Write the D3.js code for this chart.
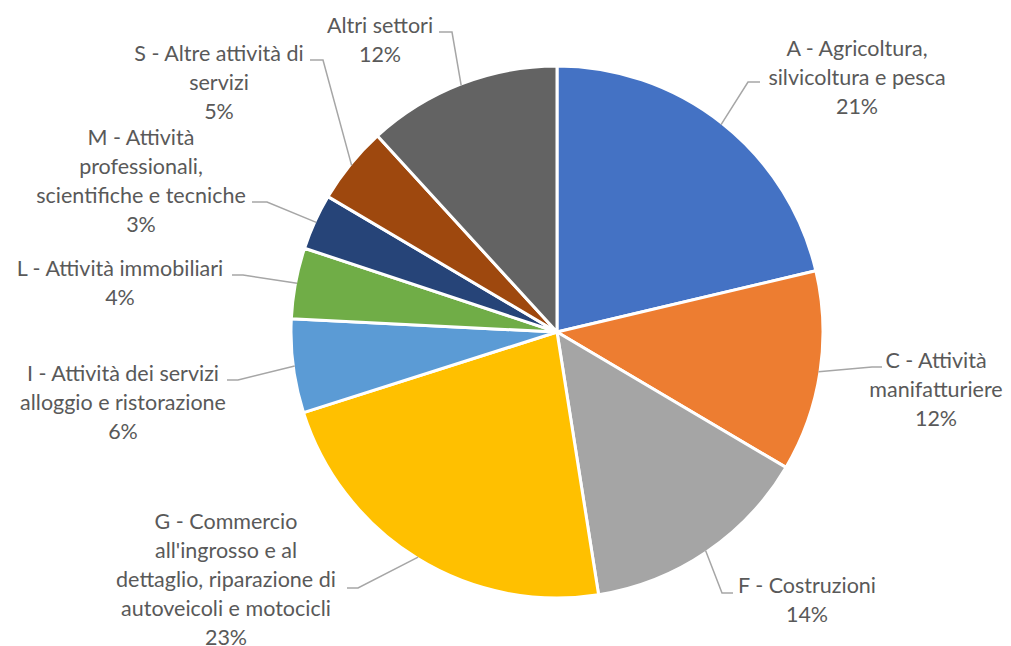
<!DOCTYPE html>
<html lang="en">
<head>
<meta charset="utf-8">
<script type="text/javascript" src="https://cdnjs.cloudflare.com/ajax/libs/d3/7.8.5/d3.min.js"></script>
<style>
    body { margin: 0; background: #fff; }
</style>
</head>
<body>
<div id="container"></div>
<script type="text/javascript">
    var w = 1011;
    var h = 646;

    // data
    var categories = [
        "A - Agricoltura,\nsilvicoltura e pesca",
        "C - Attività\nmanifatturiere",
        "F - Costruzioni",
        "G - Commercio\nall'ingrosso e al\ndettaglio, riparazione di\nautoveicoli e motocicli",
        "I - Attività dei servizi\nalloggio e ristorazione",
        "L - Attività immobiliari",
        "M - Attività\nprofessionali,\nscientifiche e tecniche",
        "S - Altre attività di\nservizi",
        "Altri settori"
    ];
    var values = [21.3, 12.2, 14.0, 22.6, 5.7, 4.3, 3.4, 4.7, 11.8];
    var colors = ["#4472C4", "#ED7D31", "#A5A5A5", "#FFC000", "#5B9BD5",
                  "#70AD47", "#264478", "#9E480E", "#636363"];

    // label placement: center x, first line y, knee x/y, end x
    var labelPos = [
        [857, 48, 748, 82, 760],
        [936, 360, 872, 367, 882],
        [807, 585, 722, 593, 733],
        [226, 521, 358, 588, 347],
        [123, 373, 238, 380, 227],
        [120, 268, 243, 275, 232],
        [141, 137, 267, 202, 252],
        [219, 53, 323, 60, 310],
        [380, 25, 452, 32, 439]
    ];

    var cx = 557, cy = 332, r = 266;
    var lineH = 29.2;

    var svg = d3.select("#container")
                .append("svg")
                .attr("width", w)
                .attr("height", h);

    var total = d3.sum(values);
    var pct = d3.format(".0%");

    var pie = d3.pie().sort(null).value(function(d) { return d; });
    var arcs = pie(values);

    var arc = d3.arc().innerRadius(0).outerRadius(r);

    var g = svg.append("g").attr("transform", "translate(" + cx + "," + cy + ")");

    g.selectAll("path")
        .data(arcs)
        .enter()
        .append("path")
        .attr("d", arc)
        .attr("fill", function(d, i) { return colors[i]; })
        .attr("stroke", "#fff")
        .attr("stroke-width", 3)
        .attr("stroke-linejoin", "round");

    // leader lines
    svg.selectAll("polyline")
        .data(arcs)
        .enter()
        .append("polyline")
        .attr("points", function(d, i) {
            var a = (d.startAngle + d.endAngle) / 2;
            var px = cx + (r - 1.5) * Math.sin(a);
            var py = cy - (r - 1.5) * Math.cos(a);
            var p = labelPos[i];
            return [[px, py], [p[2], p[3]], [p[4], p[3]]].join(" ");
        })
        .attr("fill", "none")
        .attr("stroke", "#A6A6A6")
        .attr("stroke-width", 1.5);

    // labels
    var labels = svg.selectAll("text.lbl")
        .data(arcs)
        .enter()
        .append("text")
        .attr("class", "lbl")
        .attr("text-anchor", "middle")
        .attr("font-family", "Lato, Carlito, sans-serif")
        .attr("font-size", 21.5)
        .attr("fill", "#595959");

    labels.each(function(d, i) {
        var lines = categories[i].split("\n").concat([pct(d.data / total)]);
        var t = d3.select(this);
        lines.forEach(function(s, k) {
            t.append("tspan")
                .attr("x", labelPos[i][0])
                .attr("y", labelPos[i][1] + k * lineH)
                .attr("dy", "0.35em")
                .text(s);
        });
    });
</script>
</body>
</html>
